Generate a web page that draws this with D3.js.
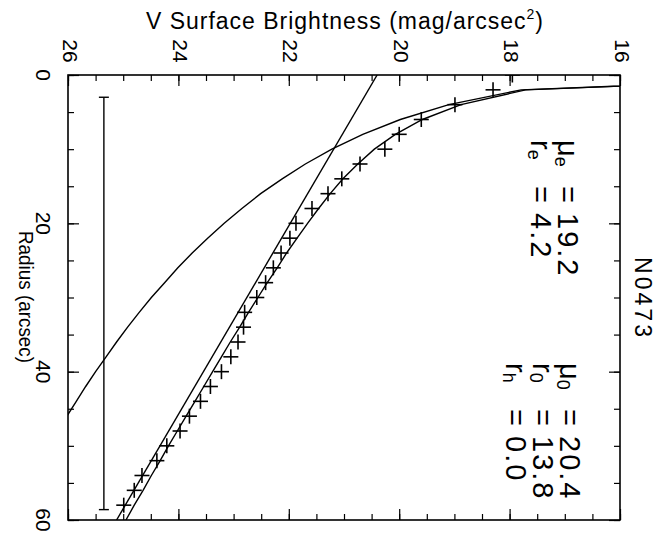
<!DOCTYPE html>
<html><head><meta charset="utf-8">
<script src="https://cdn.jsdelivr.net/npm/d3@7"></script>
<style>
body{margin:0;background:#fff}
svg{display:block}
text{font-family:"Liberation Sans",Arial,sans-serif;fill:#000}
</style>
</head><body>
<svg id="chart" width="669" height="539"></svg>
<script>
// ---- data ----
const galaxy = "N0473";
const obsRadius = [0,2,4,6,8,10,12,14,16,18,20,22,24,26,28,30,32,34,36,38,40,42,44,46,48,50,52,54,56,58];
const obsMu     = [17.95,18.30,18.99,19.60,20.00,20.26,20.71,21.04,21.29,21.58,21.87,21.98,22.14,22.28,22.42,22.58,22.80,22.82,22.92,23.05,23.22,23.42,23.60,23.80,23.97,24.21,24.39,24.66,24.80,24.99];
const modelRadius = [0,2,4,6,8,10,12,14,16,18,20,22,24,26,28,30,32,34,36,38,40,42,44,46,48,50,52,54,56,58,60];
const bulgeMu = [10.87,17.79,19.10,19.98,20.66,21.22,21.70,22.12,22.51,22.85,23.17,23.47,23.75,24.01,24.25,24.49,24.71,24.92,25.12,25.31,25.50,25.68,25.85,26.02,26.18,26.34,26.49,26.64,26.79,26.93,27.06];
const totalMu = [10.87,17.71,18.88,19.58,20.07,20.45,20.75,21.02,21.25,21.46,21.66,21.85,22.04,22.21,22.39,22.56,22.73,22.89,23.06,23.22,23.38,23.54,23.70,23.86,24.02,24.18,24.33,24.49,24.64,24.80,24.95];
const diskRadius = [0,60];
const diskMu = [20.40,25.12];
const errRadius = [3,58.6];
const errMu = [25.35];
const muTicks = [26,24,22,20,18,16];
const radiusTicks = [0,20,40,60];
const bulgeParams = [["μ","e","19.2"],["r","e","4.2"]];
const diskParams = [["μ","0","20.4"],["r","0","13.8"],["r","h","0.0"]];

// ---- layout ----
const L=68, R=620, T=75, B=520;
const svg = d3.select("#chart");
const x = d3.scaleLinear().domain([26,16]).range([L,R]);
const y = d3.scaleLinear().domain([0,60]).range([T,B]);

svg.append("defs").append("clipPath").attr("id","clip")
  .append("rect").attr("x",L).attr("y",T).attr("width",R-L).attr("height",B-T);

const lineW = 1.4;
const g = svg.append("g").attr("clip-path","url(#clip)");
const line = d3.line().x(d=>x(d[1])).y(d=>y(d[0]));

g.append("path").datum(modelRadius.map((r,i)=>[r,bulgeMu[i]]))
  .attr("d",line).attr("fill","none").attr("stroke","#000").attr("stroke-width",lineW);
g.append("path").datum(modelRadius.map((r,i)=>[r,totalMu[i]]))
  .attr("d",line).attr("fill","none").attr("stroke","#000").attr("stroke-width",lineW);
g.append("path").datum(diskRadius.map((r,i)=>[r,diskMu[i]]))
  .attr("d",line).attr("fill","none").attr("stroke","#000").attr("stroke-width",lineW);

// error bar
const ex = x(errMu[0]);
g.append("line").attr("x1",ex).attr("x2",ex).attr("y1",y(errRadius[0])).attr("y2",y(errRadius[1]))
  .attr("stroke","#000").attr("stroke-width",lineW);
errRadius.forEach(r=>{
  g.append("line").attr("x1",ex-5).attr("x2",ex+5).attr("y1",y(r)).attr("y2",y(r))
   .attr("stroke","#000").attr("stroke-width",lineW);
});

// crosses
const cs = 7.5;
const pts = g.selectAll("g.pt").data(obsRadius.map((r,i)=>[r,obsMu[i]])).join("g").attr("class","pt")
  .attr("transform",d=>`translate(${x(d[1])},${y(d[0])})`);
pts.append("line").attr("x1",-cs).attr("x2",cs).attr("y1",0).attr("y2",0).attr("stroke","#000").attr("stroke-width",1.6);
pts.append("line").attr("x1",0).attr("x2",0).attr("y1",-cs).attr("y2",cs).attr("stroke","#000").attr("stroke-width",1.6);

// axes (ticks inside on all four sides)
function addAxis(axisFn, scale, tr, major, minor){
  svg.append("g").attr("transform",tr)
    .call(axisFn(scale).tickValues(minor).tickSize(-6).tickSizeOuter(0).tickFormat(""))
    .call(s=>s.select(".domain").remove())
    .selectAll("line").attr("stroke-width",1.2);
  svg.append("g").attr("transform",tr)
    .call(axisFn(scale).tickValues(major).tickSize(-11).tickSizeOuter(0).tickFormat(""))
    .call(s=>s.select(".domain").remove())
    .selectAll("line").attr("stroke-width",1.2);
}
const muMinor = d3.range(16,26.01,0.5);
const rMinor = d3.range(0,60.01,5);
addAxis(d3.axisTop, x, `translate(0,${T})`, muTicks, muMinor);
addAxis(d3.axisBottom, x, `translate(0,${B})`, muTicks, muMinor);
addAxis(d3.axisLeft, y, `translate(${L},0)`, radiusTicks, rMinor);
addAxis(d3.axisRight, y, `translate(${R},0)`, radiusTicks, rMinor);

svg.append("rect").attr("x",L).attr("y",T).attr("width",R-L).attr("height",B-T)
  .attr("fill","none").attr("stroke","#000").attr("stroke-width",1.6);

// rotated text helper
function rtext(cx, cy, anchor, size){
  return svg.append("text").attr("x",cx).attr("y",cy)
    .attr("transform",`rotate(90,${cx},${cy})`)
    .attr("text-anchor",anchor).attr("dominant-baseline","central")
    .attr("font-size",size);
}
muTicks.forEach(v=>rtext(x(v)+2,51,"middle",21).text(v));
radiusTicks.forEach(v=>rtext(43,y(v),"middle",21).text(v));
rtext(26,297,"middle",21).attr("textLength",132).attr("lengthAdjust","spacingAndGlyphs").text("Radius (arcsec)");
rtext(643,297,"middle",23).attr("textLength",80).attr("lengthAdjust","spacing").text(galaxy);

// title
const t = svg.append("text").attr("x",146).attr("y",29).attr("font-size",23)
  .attr("textLength",397).attr("lengthAdjust","spacing");
t.append("tspan").text("V Surface Brightness (mag/arcsec");
t.append("tspan").attr("font-size",14).attr("dy",-10).text("2");
t.append("tspan").attr("dy",10).text(")");

// parameters
function params(list, x0, y0){
  list.forEach((p,i)=>{
    const cx = x0 - i*27;
    const a = rtext(cx, y0, "start", 29);
    a.append("tspan").text(p[0]);
    a.append("tspan").attr("font-size",18).attr("dy",7).text(p[1]);
    rtext(cx, y0+46, "start", 29).text("=");
    rtext(cx, y0+73, "start", 29).attr("letter-spacing",2).text(p[2]);
  });
}
params(bulgeParams, 568, 140);
params(diskParams, 570, 363);
</script>
</body></html>
